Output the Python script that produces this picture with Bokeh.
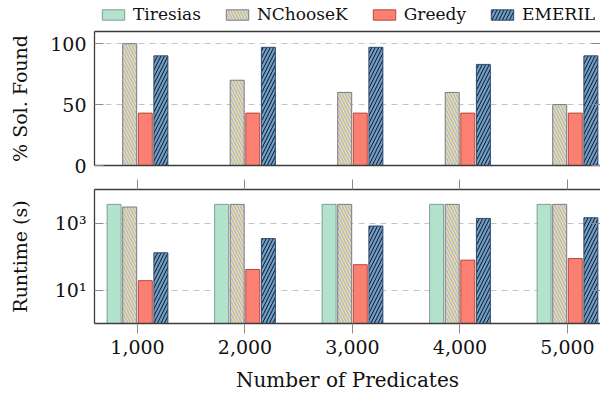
from bokeh.plotting import figure
from bokeh.layouts import column
from bokeh.models import (ColumnDataSource, Legend, LegendItem, LinearAxis, LogAxis,
                          FixedTicker, NumeralTickFormatter, CustomJSTickFormatter, Range1d)
from bokeh.transform import dodge
from bokeh.embed import file_html
from bokeh.resources import INLINE

# ---------------- data ----------------
predicates = [1000, 2000, 3000, 4000, 5000]
series = ["Tiresias", "NChooseK", "Greedy", "EMERIL"]

found_tiresias = [0, 0, 0, 0, 0]
found_nchoosek = [100, 70, 60, 60, 50]
found_greedy = [43, 43, 43, 43, 43]
found_emeril = [90, 97, 97, 83, 90]

runtime_tiresias = [3600, 3600, 3600, 3600, 3600]
runtime_nchoosek = [3000, 3600, 3600, 3600, 3600]
runtime_greedy = [19, 41, 57, 78, 87]
runtime_emeril = [129, 342, 813, 1370, 1435]

found_ticks = [0, 50, 100]
runtime_ticks = [10, 1000]
runtime_tick_labels = ["10\u00b9", "10\u00b3"]

# ---------------- styles ----------------
FONT = "DejaVu Serif"
FRAME = "#3c3c3c"
TICK = "#8a8a8a"
styles = {
    "Tiresias": dict(fill_color="#b3e2cd", line_color="#7f9f91", hatch_pattern=None, hatch_color=None, hs=6),
    "NChooseK": dict(fill_color="#bebada", line_color="#7a7890", hatch_pattern="left_diagonal_line", hatch_color="#f5f06a", hs=6),
    "Greedy": dict(fill_color="#fb8072", line_color="#b8483e", hatch_pattern=None, hatch_color=None, hs=6),
    "EMERIL": dict(fill_color="#6f9fcc", line_color="#2f4b6b", hatch_pattern="right_diagonal_line", hatch_color="#111111", hs=7),
}
PITCH = 145
BAR_W = 130
offsets = [-1.5 * PITCH, -0.5 * PITCH, 0.5 * PITCH, 1.5 * PITCH]

src = ColumnDataSource(dict(
    x=predicates,
    f_Tiresias=found_tiresias, f_NChooseK=found_nchoosek, f_Greedy=found_greedy, f_EMERIL=found_emeril,
    r_Tiresias=runtime_tiresias, r_NChooseK=runtime_nchoosek, r_Greedy=runtime_greedy, r_EMERIL=runtime_emeril,
))

X0, X1 = 600, 5307
W = 600
LEFT = 94


def bar_kw(name):
    st = styles[name]
    kw = dict(fill_color=st["fill_color"], line_color=st["line_color"], line_width=1)
    if st["hatch_pattern"]:
        kw.update(hatch_pattern=st["hatch_pattern"], hatch_color=st["hatch_color"],
                  hatch_scale=st["hs"], hatch_weight=1)
    return kw


def style_left(ax, label, standoff):
    ax.axis_label = label
    ax.axis_label_text_font = FONT
    ax.axis_label_text_font_size = "19px"
    ax.axis_label_text_font_style = "normal"
    ax.axis_label_text_color = "#111111"
    ax.axis_label_standoff = standoff
    ax.major_label_text_font = FONT
    ax.major_label_text_font_size = "19px"
    ax.major_label_text_color = "#111111"
    ax.major_label_standoff = 8
    ax.major_tick_in = 9
    ax.major_tick_out = 0
    ax.major_tick_line_color = TICK
    ax.minor_tick_line_color = None
    ax.axis_line_color = FRAME
    ax.axis_line_width = 1.3


def bare_axis(cls, ticks, tick_in, tick_out, line_color, tick_color=TICK):
    return cls(ticker=FixedTicker(ticks=ticks), major_label_text_font_size="1px",
               major_label_text_color=None, major_label_standoff=0,
               major_tick_in=tick_in, major_tick_out=tick_out,
               major_tick_line_color=tick_color, minor_tick_line_color=None,
               axis_line_color=line_color, axis_line_width=1.3)


def style_fig(p):
    p.outline_line_color = None
    p.background_fill_color = "white"
    p.border_fill_color = "white"


# ---------------- legend strip (its bars lie far outside its visible ranges) ----------------
p0 = figure(width=W, height=29, x_range=Range1d(-20000, -19000), y_range=Range1d(-2, -1),
            output_backend="svg", toolbar_location=None, x_axis_type=None, y_axis_type=None,
            min_border_left=0, min_border_right=0, min_border_top=0, min_border_bottom=0)
style_fig(p0)
leg_renderers = {}
for name, off in zip(series, offsets):
    leg_renderers[name] = p0.vbar(x=dodge("x", off), top="f_" + name, bottom=0,
                                  width=BAR_W, source=src, **bar_kw(name))
legend = Legend(items=[LegendItem(label=n, renderers=[leg_renderers[n]]) for n in series],
                orientation="horizontal", location=(5, 5),
                label_text_font=FONT, label_text_font_size="17px", label_text_color="#111111",
                glyph_width=28, glyph_height=13, label_standoff=6, spacing=22,
                padding=0, margin=0, border_line_color=None, background_fill_alpha=0,
                label_height=20)
p0.add_layout(legend, "center")

# ---------------- top plot ----------------
p1 = figure(width=W, height=148, x_range=Range1d(X0, X1), y_range=Range1d(0, 110),
            output_backend="svg", toolbar_location=None,
            min_border_left=LEFT, min_border_right=0, min_border_top=2, min_border_bottom=12)
style_fig(p1)
for name, off in zip(series, offsets):
    p1.vbar(x=dodge("x", off), top="f_" + name, bottom=0, width=BAR_W, source=src, **bar_kw(name))

ya = p1.yaxis[0]
ya.ticker = FixedTicker(ticks=found_ticks)
style_left(ya, "% Sol. Found", 16)
p1.xgrid.visible = False
p1.ygrid.ticker = FixedTicker(ticks=found_ticks[1:])
p1.ygrid.grid_line_color = "#c4c4c4"
p1.ygrid.grid_line_dash = "6 5"

xa1 = p1.xaxis[0]
xa1.ticker = FixedTicker(ticks=predicates)
xa1.major_tick_in = 0
xa1.major_tick_out = 0
xa1.major_label_text_font_size = "1px"
xa1.major_label_text_color = None
xa1.major_label_standoff = 0
xa1.minor_tick_line_color = None
xa1.axis_line_color = FRAME
xa1.axis_line_width = 1.3

p1.add_layout(bare_axis(LinearAxis, predicates, 0, 0, FRAME, None), "above")
p1.add_layout(bare_axis(LinearAxis, found_ticks, 9, 0, None), "right")

# ---------------- bottom plot ----------------
p2 = figure(width=W, height=218, x_range=p1.x_range, y_range=Range1d(1, 10000),
            y_axis_type="log", output_backend="svg", toolbar_location=None,
            min_border_left=LEFT, min_border_right=0, min_border_top=12, min_border_bottom=72)
style_fig(p2)
for name, off in zip(series, offsets):
    p2.vbar(x=dodge("x", off), top="r_" + name, bottom=1, width=BAR_W, source=src, **bar_kw(name))

ya2 = p2.yaxis[0]
ya2.ticker = FixedTicker(ticks=runtime_ticks)
ya2.formatter = CustomJSTickFormatter(
    args=dict(tvals=runtime_ticks, tlabels=runtime_tick_labels),
    code="const i = tvals.indexOf(tick); return i >= 0 ? tlabels[i] : '';")
style_left(ya2, "Runtime (s)", 21)
p2.xgrid.visible = False
p2.ygrid.ticker = FixedTicker(ticks=runtime_ticks)
p2.ygrid.grid_line_color = "#c4c4c4"
p2.ygrid.grid_line_dash = "6 5"

xa = p2.xaxis[0]
xa.ticker = FixedTicker(ticks=predicates)
xa.formatter = NumeralTickFormatter(format="0,0")
xa.major_tick_out = 10
xa.major_tick_in = 0
xa.major_tick_line_color = TICK
xa.minor_tick_line_color = None
xa.axis_line_color = FRAME
xa.axis_line_width = 1.3
xa.major_label_text_font = FONT
xa.major_label_text_font_size = "19px"
xa.major_label_text_color = "#111111"
xa.major_label_standoff = 6
xa.axis_label = "Number of Predicates"
xa.axis_label_text_font = FONT
xa.axis_label_text_font_size = "20px"
xa.axis_label_text_font_style = "normal"
xa.axis_label_text_color = "#111111"
xa.axis_label_standoff = 11

p2.add_layout(bare_axis(LinearAxis, predicates, 0, 10, FRAME), "above")
p2.add_layout(bare_axis(LogAxis, runtime_ticks, 9, 0, None), "right")

layout = column(p0, p1, p2, spacing=0)
open("out.html", "w").write(file_html(layout, INLINE))
